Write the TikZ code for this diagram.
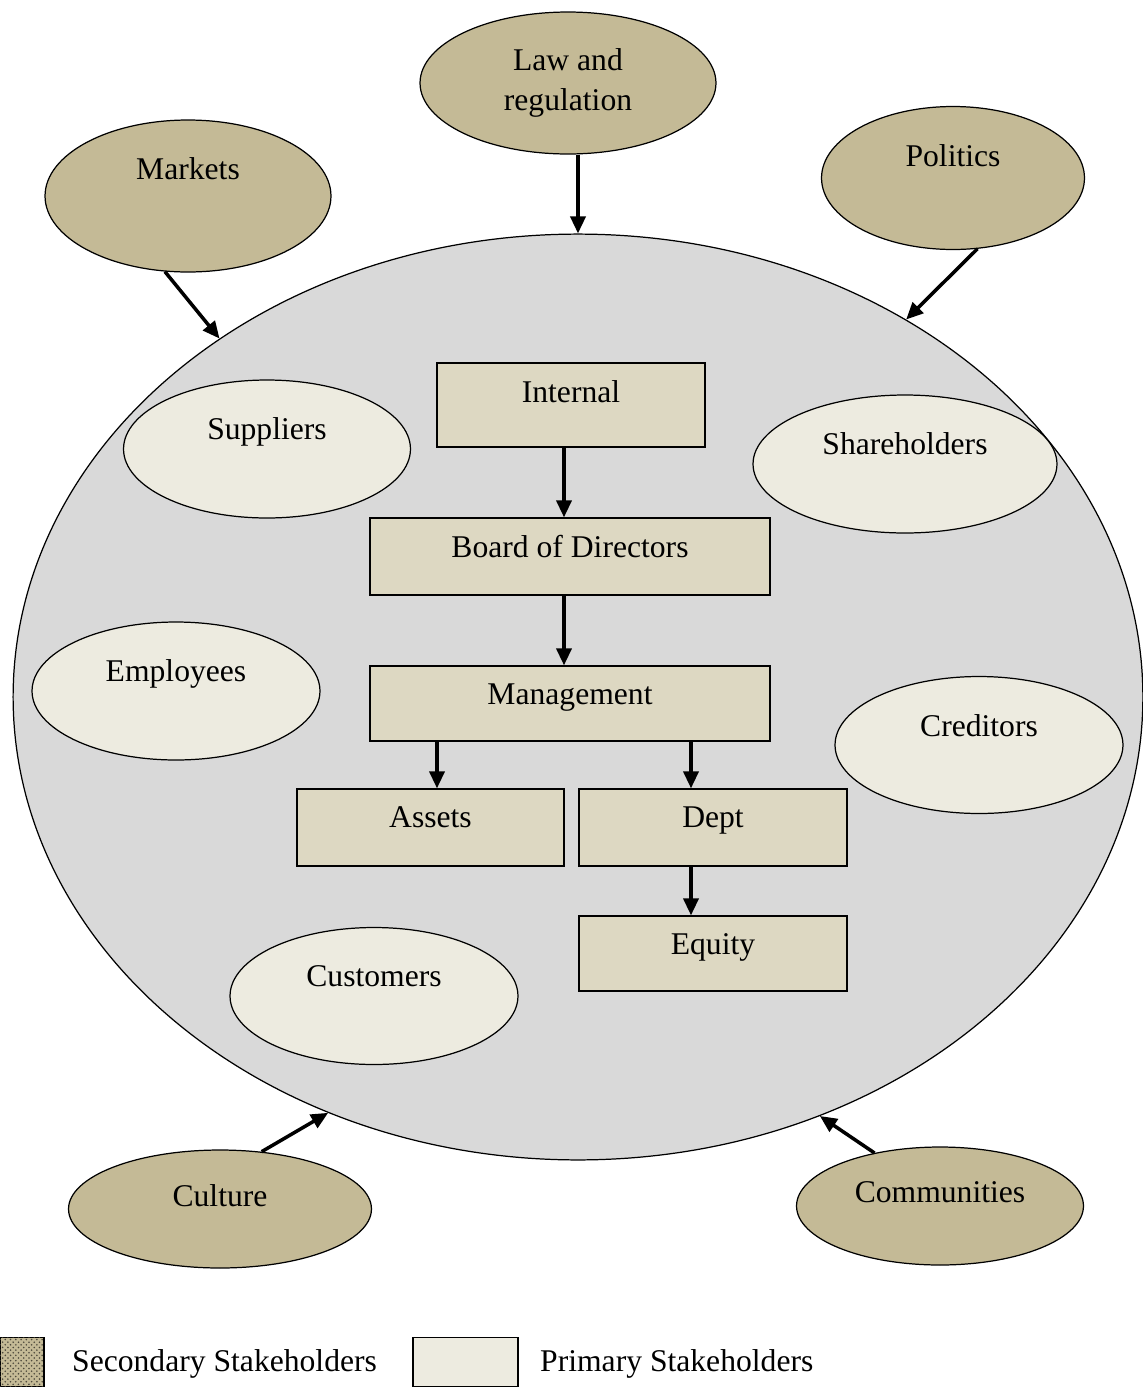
\documentclass[tikz,border=0pt]{standalone}
\usepackage{fontspec}
\setmainfont{Liberation Serif}
\usetikzlibrary{shapes.geometric, arrows.meta, patterns}

\definecolor{secfill}{RGB}{196,186,150}
\definecolor{primfill}{RGB}{237,235,224}
\definecolor{boxfill}{RGB}{221,216,194}
\definecolor{firmfill}{RGB}{217,217,217}

\tikzset{
  secondary/.style={ellipse, draw, line width=0.7pt, fill=secfill, inner sep=0pt},
  primary/.style={ellipse, draw, line width=0.7pt, fill=primfill, inner sep=0pt},
  unit/.style={rectangle, draw, line width=0.7pt, fill=boxfill, inner sep=0pt},
  etxt/.style={anchor=north, yshift=-0.64cm, align=center},
  btxt/.style={anchor=north, yshift=-0.24cm},
  link/.style={->, line width=2pt}
}

\begin{document}
\begin{tikzpicture}[x=0.02cm, y=-0.02cm, font=\fontsize{18}{22.6}\selectfont,
    >={Triangle[length=0.34cm, width=0.3cm]}]
        \useasboundingbox (0,0) rectangle (1143,1387);

        % Firm
        \node[ellipse, draw, line width=0.7pt, fill=firmfill, inner sep=0pt,
              minimum width=22.6cm, minimum height=18.52cm] (firm) at (578,697) {};

        % Secondary stakeholders
        \node[secondary, minimum width=5.92cm, minimum height=2.84cm,
              label={[etxt, yshift=0.02cm]north:Law and\\regulation}] (law) at (568,83) {};
        \node[secondary, minimum width=5.72cm, minimum height=3.04cm,
              label={[etxt]north:Markets}] (mkt) at (188,196) {};
        \node[secondary, minimum width=5.26cm, minimum height=2.86cm,
              label={[etxt]north:Politics}] (pol) at (953,178) {};
        \node[secondary, minimum width=6.06cm, minimum height=2.36cm,
              label={[etxt, yshift=0.06cm]north:Culture}] (cul) at (220,1209) {};
        \node[secondary, minimum width=5.74cm, minimum height=2.36cm,
              label={[etxt, yshift=0.06cm]north:Communities}] (com) at (940,1206) {};

        % Primary stakeholders
        \node[primary, minimum width=5.74cm, minimum height=2.76cm,
              label={[etxt]north:Suppliers}] (sup) at (267,449) {};
        \node[primary, minimum width=6.08cm, minimum height=2.76cm,
              label={[etxt]north:Shareholders}] (sha) at (905,464) {};
        \node[primary, minimum width=5.76cm, minimum height=2.76cm,
              label={[etxt]north:Employees}] (emp) at (176,691) {};
        \node[primary, minimum width=5.76cm, minimum height=2.74cm,
              label={[etxt]north:Creditors}] (cre) at (979,745) {};
        \node[primary, minimum width=5.76cm, minimum height=2.74cm,
              label={[etxt]north:Customers}] (cus) at (374,996) {};

        % Internal structure
        \node[unit, minimum width=5.36cm, minimum height=1.68cm,
              label={[btxt]north:Internal}] (int) at (571,405) {};
        \node[unit, minimum width=8cm, minimum height=1.54cm,
              label={[btxt]north:Board of Directors}] (bod) at (570,556.5) {};
        \node[unit, minimum width=8cm, minimum height=1.5cm,
              label={[btxt]north:Management}] (mgt) at (570,703.5) {};
        \node[unit, minimum width=5.34cm, minimum height=1.54cm,
              label={[btxt]north:Assets}] (ast) at (430.5,827.5) {};
        \node[unit, minimum width=5.36cm, minimum height=1.54cm,
              label={[btxt]north:Dept}] (dept) at (713,827.5) {};
        \node[unit, minimum width=5.36cm, minimum height=1.5cm,
              label={[btxt]north:Equity}] (eq) at (713,953.5) {};

        % Edges
        \draw[link] (law.south -| firm.north) -- (firm.north);
        \draw[link] (mkt.253) -- (firm.135);
        \draw[link] (pol.289) -- (firm.49);
        \draw[link] (cul.54) -- (firm.239);
        \draw[link] (com.141) -- (firm.300);
        \draw[link] ([xshift=-0.14cm]int.south) -- ([xshift=-0.14cm]int.south |- bod.north);
        \draw[link] ([xshift=-0.12cm]bod.south) -- ([xshift=-0.12cm]bod.south |- mgt.north);
        \draw[link] ([xshift=0.13cm]ast.north |- mgt.south) -- ([xshift=0.13cm]ast.north);
        \draw[link] ([xshift=-0.44cm]dept.north |- mgt.south) -- ([xshift=-0.44cm]dept.north);
        \draw[link] ([xshift=-0.44cm]dept.south) -- ([xshift=-0.44cm]eq.north);

        % Legend
        \node[rectangle, draw, line width=0.7pt, fill=secfill, inner sep=0pt,
              minimum width=0.88cm, minimum height=0.98cm,
              postaction={pattern=crosshatch dots, pattern color=secfill!40!black}] (keysec) at (22,1362) {};
        \node[anchor=west] (txtsec) at (66,1364) {Secondary Stakeholders};
        \node[rectangle, draw, line width=0.7pt, fill=primfill, inner sep=0pt,
              minimum width=2.1cm, minimum height=0.98cm] (keyprim) at (465.5,1362) {};
        \node[anchor=west] (txtprim) at (534,1364) {Primary Stakeholders};
    \end{tikzpicture}
\end{document}
